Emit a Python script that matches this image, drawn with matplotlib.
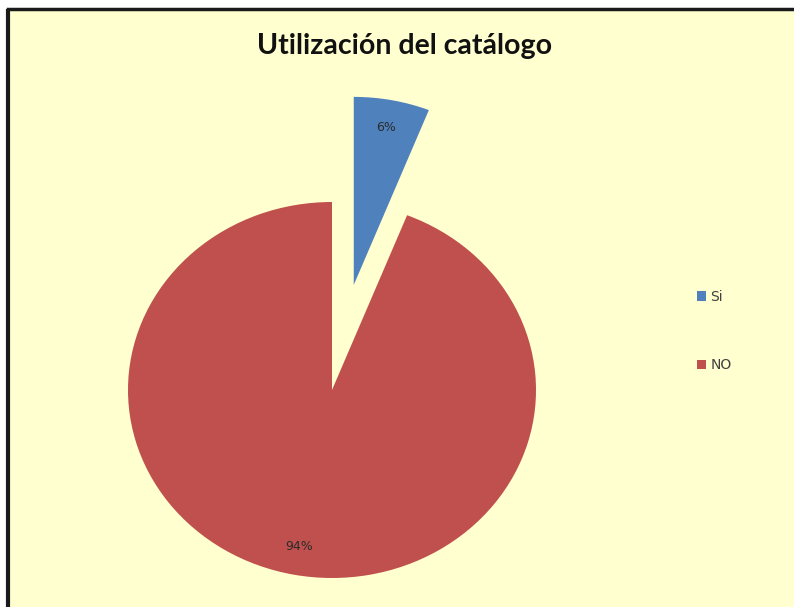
import matplotlib
matplotlib.use("Agg")
import matplotlib.pyplot as plt
from matplotlib.patches import Rectangle, Patch

title = "Utilización del catálogo"
categories = ["Si", "NO"]
values = [6, 94]
colors = ["#4F81BD", "#C0504D"]

W, H = 794, 607
SX = 204 / 188  # horizontal stretch of the pie in the original
fig = plt.figure(figsize=(W / 100, H / 100), dpi=100)
fig.patch.set_facecolor("white")

ax = fig.add_axes([0, 0, 1, 1])

# chart area background + frame
ax.add_patch(Rectangle((8 / SX, 0), (W - 8) / SX, H - 9, facecolor="#FFFFCF",
                       edgecolor="none", zorder=-5))
ax.plot([8 / SX, 8 / SX], [0, H - 9], color="#1a1a1a", lw=3, zorder=-4,
        solid_capstyle="butt")
ax.plot([8 / SX, W / SX], [H - 9, H - 9], color="#1a1a1a", lw=2.5, zorder=-4)

wedges, texts, autotexts = ax.pie(
    values, colors=colors, startangle=90, counterclock=False,
    explode=[107, 0], radius=188, center=(332 / SX, H - 390),
    autopct="%1.0f%%", pctdistance=0.85, frame=True,
    textprops=dict(fontsize=9, color="#2b2b2b"),
)
ax.set_aspect("auto")
ax.set_xlim(0, W / SX)
ax.set_ylim(0, H)
ax.axis("off")

fig.text(405 / W, 1 - 46 / H, title, ha="center", va="center",
         fontsize=20.5, fontweight="bold", family="Lato", color="#111111")

handles = [Patch(facecolor=c, edgecolor="none") for c in colors]
fig.legend(handles, categories, loc="center left",
           bbox_to_anchor=(684 / W, 1 - 331 / H), frameon=False,
           fontsize=10, labelspacing=3.95, handlelength=0.7, handleheight=0.7,
           handletextpad=0.3, labelcolor="#404040")

fig.savefig("out.png", dpi=100)
